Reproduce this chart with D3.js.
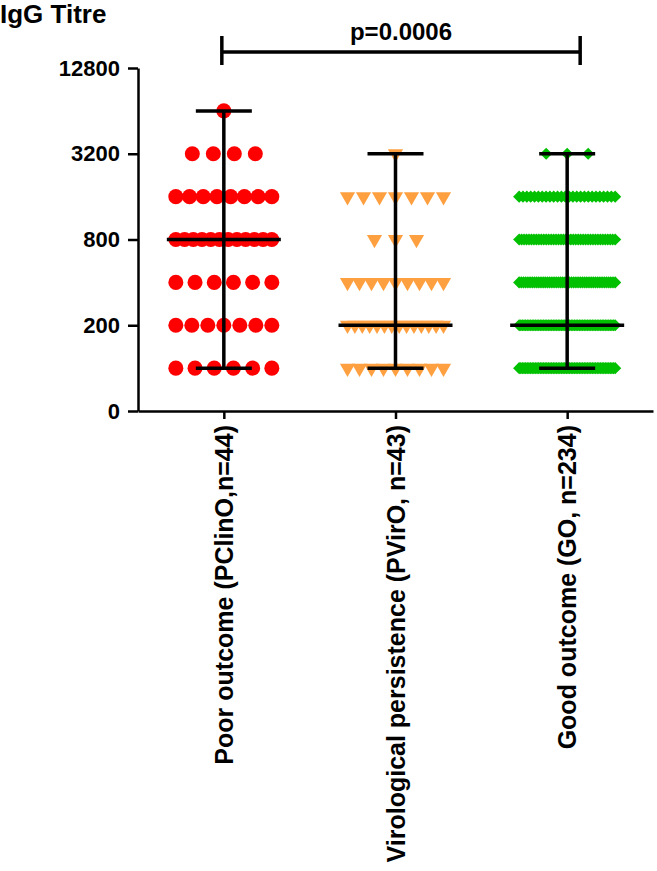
<!DOCTYPE html>
<html>
<head>
<meta charset="utf-8">
<script src="https://cdn.jsdelivr.net/npm/d3@7"></script>
<style>
  body { margin: 0; background: #fff; }
  svg { display: block; font-family: 'Liberation Sans', Arial, sans-serif; font-weight: bold; }
</style>
</head>
<body>
<div id="chart"></div>
<script>
const groups = [
  'Poor outcome (PClinO,n=44)',
  'Virological persistence (PVirO, n=43)',
  'Good outcome (GO, n=234)'
];
const titreLevels = [100, 200, 400, 800, 1600, 3200, 6400];
// number of patients at each titre level, per group
const poorCounts = [6, 7, 6, 12, 8, 4, 1];
const viroCounts = [9, 14, 9, 3, 7, 1, 0];
const goodCounts = [60, 60, 45, 40, 26, 3, 0];
const groupColors = ['#ff0000', '#ffa040', '#00c000'];
const yTickValues = [50, 200, 800, 3200, 12800];
const yTickLabels = ['0', '200', '800', '3200', '12800'];
const pValueText = 'p=0.0006';

const width = 657;
const height = 871;

const svg = d3.select('#chart')
  .append('svg')
  .attr('width', width)
  .attr('height', height);

const x = d3.scalePoint().domain(groups).range([138, 653]).padding(0.5);
const y = d3.scaleLog().base(2).domain([50, 12800]).range([411, 68]);

const allCounts = [poorCounts, viroCounts, goodCounts];

// expand counts into individual points, spread along a row like a column scatter
const points = [];
const stats = [];
groups.forEach((g, gi) => {
  const values = [];
  titreLevels.forEach((lvl, li) => {
    const n = allCounts[gi][li];
    const step = n > 1 ? Math.min(21, 96 / (n - 1)) : 0;
    for (let k = 0; k < n; k++) {
      points.push({ group: g, gi, value: lvl, offset: (k - (n - 1) / 2) * step });
      values.push(lvl);
    }
  });
  stats.push({
    group: g,
    median: d3.median(values),
    min: d3.min(values),
    max: d3.max(values)
  });
});

const symbols = [
  d3.symbol(d3.symbolCircle, 177),
  d3.symbol(d3.symbolTriangle, 100),
  d3.symbol(d3.symbolSquare, 74)
];
const rotations = [0, 180, 45];

svg.append('g')
  .attr('class', 'points')
  .selectAll('path')
  .data(points)
  .join('path')
  .attr('d', d => symbols[d.gi]())
  .attr('transform', d => `translate(${x(d.group) + d.offset},${y(d.value)}) rotate(${rotations[d.gi]})`)
  .attr('fill', d => groupColors[d.gi]);

// median with range
const bars = svg.append('g')
  .attr('class', 'errorbars')
  .attr('stroke', '#000')
  .attr('stroke-width', 3.5);

bars.selectAll('.vline')
  .data(stats)
  .join('line')
  .attr('x1', d => x(d.group))
  .attr('x2', d => x(d.group))
  .attr('y1', d => y(d.min))
  .attr('y2', d => y(d.max));

bars.selectAll('.median')
  .data(stats)
  .join('line')
  .attr('x1', d => x(d.group) - 57)
  .attr('x2', d => x(d.group) + 57)
  .attr('y1', d => y(d.median))
  .attr('y2', d => y(d.median));

bars.selectAll('.capTop')
  .data(stats)
  .join('line')
  .attr('x1', d => x(d.group) - 28)
  .attr('x2', d => x(d.group) + 28)
  .attr('y1', d => y(d.max))
  .attr('y2', d => y(d.max));

bars.selectAll('.capBottom')
  .data(stats)
  .join('line')
  .attr('x1', d => x(d.group) - 28)
  .attr('x2', d => x(d.group) + 28)
  .attr('y1', d => y(d.min))
  .attr('y2', d => y(d.min));

// axes
const yAxis = svg.append('g')
  .attr('transform', `translate(${x.range()[0]},0)`)
  .call(d3.axisLeft(y)
    .tickValues(yTickValues)
    .tickFormat((d, i) => yTickLabels[i])
    .tickSize(10)
    .tickSizeOuter(0)
    .tickPadding(8));

const xAxis = svg.append('g')
  .attr('transform', `translate(0,${y.range()[0]})`)
  .call(d3.axisBottom(x).tickSize(8).tickSizeOuter(0));

[yAxis, xAxis].forEach(a => {
  a.selectAll('path, line').attr('stroke', '#000').attr('stroke-width', 2.5);
  a.selectAll('text').attr('fill', '#000').style('font-weight', 'bold');
});
yAxis.selectAll('text').style('font-size', '22px');

xAxis.selectAll('text')
  .style('font-size', '25px')
  .attr('transform', 'rotate(-90)')
  .attr('x', -14)
  .attr('y', 0)
  .attr('dy', '0.35em')
  .style('text-anchor', 'end');

// title
svg.append('text')
  .attr('x', 0)
  .attr('y', 23)
  .style('font-size', '26px')
  .text('IgG Titre');

// significance bracket
const bx1 = x(groups[0]) - 2;
const bx2 = x(groups[2]) + 13;
const by = 52;
const bracket = svg.append('g').attr('stroke', '#000').attr('stroke-width', 3.5);
bracket.append('line').attr('x1', bx1).attr('x2', bx2).attr('y1', by).attr('y2', by);
bracket.append('line').attr('x1', bx1).attr('x2', bx1).attr('y1', by - 16).attr('y2', by + 13);
bracket.append('line').attr('x1', bx2).attr('x2', bx2).attr('y1', by - 16).attr('y2', by + 13);

svg.append('text')
  .attr('x', (bx1 + bx2) / 2)
  .attr('y', 40)
  .attr('text-anchor', 'middle')
  .style('font-size', '24px')
  .text(pValueText);
</script>
</body>
</html>
